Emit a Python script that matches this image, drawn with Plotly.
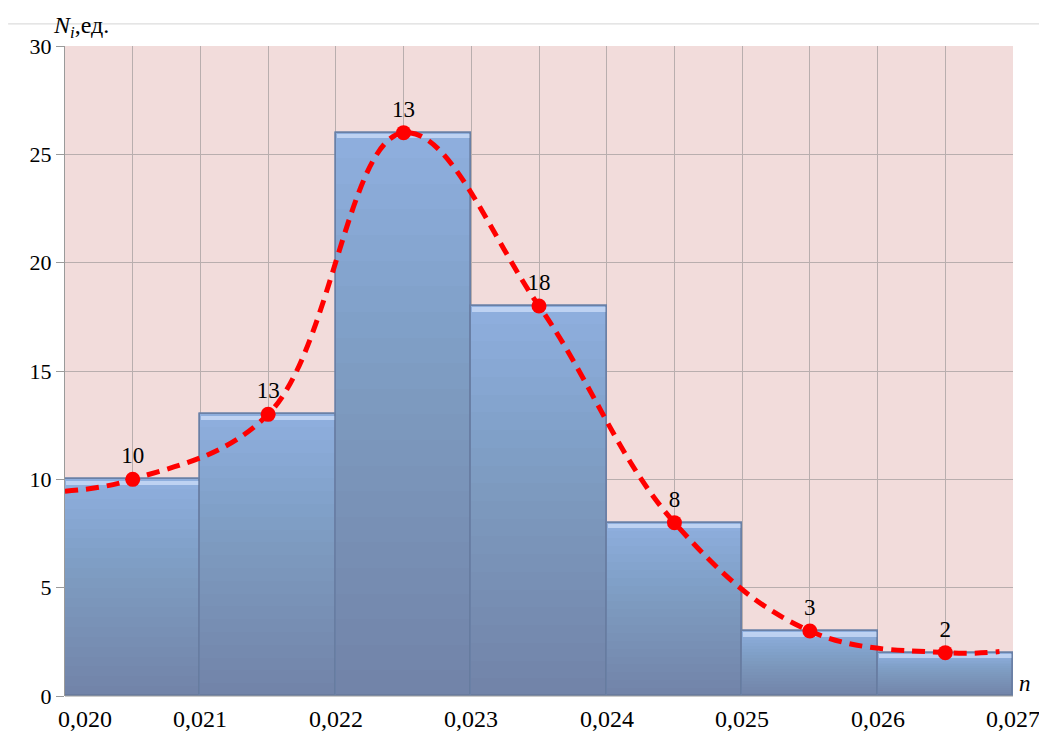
import plotly.graph_objects as go

# ---- data ----
bin_centers = [0.0205, 0.0215, 0.0225, 0.0235, 0.0245, 0.0255, 0.0265]
counts = [10, 13, 26, 18, 8, 3, 2]
point_labels = ["10", "13", "13", "18", "8", "3", "2"]
curve_x = [0.0200, 0.0205, 0.0215, 0.0225, 0.0235, 0.0245, 0.0255, 0.0265, 0.0269]
curve_y = [9.45, 10, 13, 26, 18, 8, 3, 2, 2.05]
x_ticks = [0.020, 0.021, 0.022, 0.023, 0.024, 0.025, 0.026, 0.027]
x_tick_text = ["0,020", "0,021", "0,022", "0,023", "0,024", "0,025", "0,026", "0,027"]
y_ticks = [0, 5, 10, 15, 20, 25, 30]

FONT = "Times New Roman, Liberation Serif, DejaVu Serif, serif"
bin_w = 0.001

fig = go.Figure()

# base bars
fig.add_trace(go.Bar(
    x=bin_centers, y=counts, width=bin_w,
    marker=dict(color="#90b0e0", line=dict(color="#6d84aa", width=1.5)),
    hoverinfo="skip", showlegend=False))

# gradient layers (darker toward the bottom)
N = 22
for k in range(1, N + 1):
    fig.add_trace(go.Bar(
        x=bin_centers, y=[c * k / N for c in counts], width=bin_w,
        marker=dict(color="rgba(35,50,62,0.016)", line=dict(width=0)),
        hoverinfo="skip", showlegend=False))

# top highlight band (bevel)
fig.add_trace(go.Bar(
    x=bin_centers, y=[0.2] * len(counts), base=[c - 0.26 for c in counts],
    width=bin_w * 0.985,
    marker=dict(color="rgba(205,222,248,0.75)", line=dict(width=0)),
    hoverinfo="skip", showlegend=False))

# bar outline on top
fig.add_trace(go.Bar(
    x=bin_centers, y=counts, width=bin_w,
    marker=dict(color="rgba(0,0,0,0)", line=dict(color="#6a80a6", width=1.5)),
    hoverinfo="skip", showlegend=False))

# smooth dashed curve
fig.add_trace(go.Scatter(
    x=curve_x, y=curve_y, mode="lines",
    line=dict(color="#ff0000", width=5, dash="13px,8px", shape="spline", smoothing=1.1),
    hoverinfo="skip", showlegend=False))

# points with labels
fig.add_trace(go.Scatter(
    x=bin_centers, y=counts, mode="markers+text",
    marker=dict(color="#ff0000", size=15),
    text=point_labels, textposition="top center",
    textfont=dict(family=FONT, size=23, color="black"),
    hoverinfo="skip", showlegend=False))

# x tick labels
for xv, t in zip(x_ticks, x_tick_text):
    fig.add_annotation(x=xv, y=0, xref="x", yref="paper", text=t,
                       showarrow=False, yanchor="top", yshift=-8,
                       xshift=20 if xv == x_ticks[0] else 0,
                       font=dict(family=FONT, size=24, color="black"))

# axis titles
fig.add_annotation(x=0, y=1, xref="paper", yref="paper",
                   text="<i>N<sub>i</sub></i>,ед.", showarrow=False,
                   xanchor="center", yanchor="bottom", xshift=16, yshift=2,
                   font=dict(family=FONT, size=24, color="black"))
fig.add_annotation(x=1, y=0, xref="paper", yref="paper",
                   text="<i>n</i>", showarrow=False,
                   xanchor="left", yanchor="bottom", xshift=4, yshift=-2,
                   font=dict(family=FONT, size=23, color="black"))

# thin gray line at top of picture
fig.add_shape(type="line", xref="paper", yref="paper",
              x0=-0.06, x1=1.03, y0=1.034, y1=1.034,
              line=dict(color="#d4d4d4", width=1))

grid_vals = [0.020 + 0.0005 * i for i in range(15)]
fig.update_layout(
    width=1039, height=735,
    margin=dict(l=65, r=26, t=46, b=39),
    paper_bgcolor="white", plot_bgcolor="#f2dcdb",
    barmode="overlay", bargap=0,
    xaxis=dict(range=[0.020, 0.027], tickvals=grid_vals, showticklabels=False,
               showgrid=True, gridcolor="#b9aeae", gridwidth=1,
               zeroline=False, showline=False, ticks=""),
    yaxis=dict(range=[0, 30], tickvals=y_ticks, showgrid=True,
               gridcolor="#b9aeae", gridwidth=1, zeroline=False,
               showline=True, linecolor="#9a9a9a", linewidth=1,
               ticks="outside", ticklen=8, tickcolor="#9a9a9a",
               tickfont=dict(family=FONT, size=22, color="black")),
    font=dict(family=FONT),
)
fig.add_shape(type="line", xref="paper", yref="paper", x0=0, x1=1, y0=0, y1=0,
              line=dict(color="#9a9a9a", width=1), layer="above")

fig.write_html("out.html", config={"displayModeBar": False},
               post_script="document.body.style.margin='0';")
